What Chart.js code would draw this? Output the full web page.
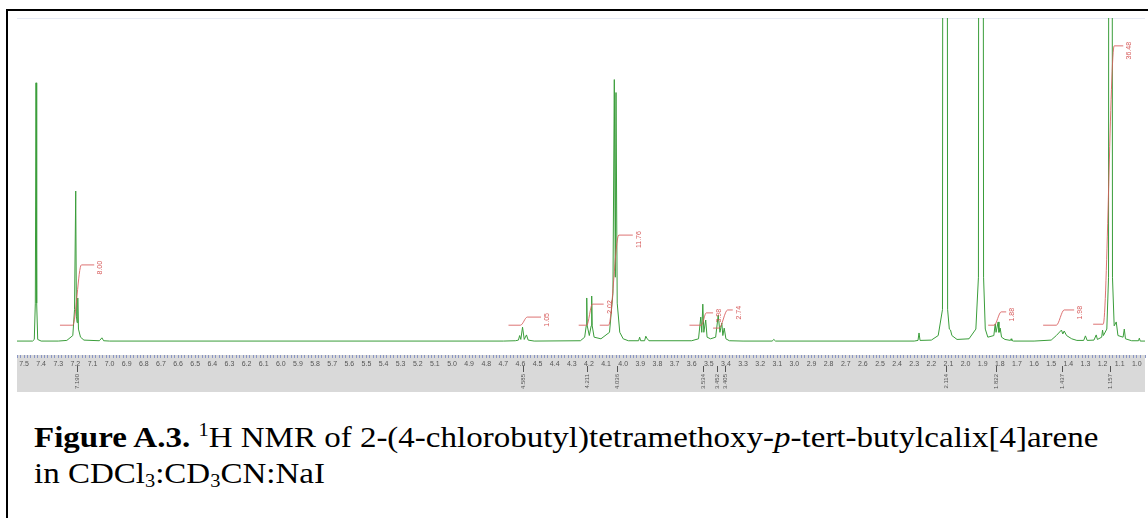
<!DOCTYPE html>
<html>
<head>
<meta charset="utf-8">
<script src="https://cdn.jsdelivr.net/npm/chart.js@4.4.1/dist/chart.umd.min.js"></script>
<style>
    body { margin: 0; background: #fff; width: 1148px; height: 518px; overflow: hidden; position: relative; }
    #frame { position: absolute; left: 6px; top: 9px; width: 1170px; height: 540px; border: 2px solid #000; box-sizing: border-box; }
    #wrap { position: absolute; left: 0; top: 0; width: 1148px; height: 400px; }
    #caption { position: absolute; left: 34px; top: 419px; font-family: 'Liberation Serif', 'Times New Roman', serif; font-size: 30px; line-height: 36px; color: #000; white-space: nowrap; transform: scaleX(1.1); transform-origin: left top; }
    #caption sup { font-size: 0.62em; vertical-align: 0.6em; line-height: 0; }
    #caption sub { font-size: 0.62em; vertical-align: -0.2em; line-height: 0; }
</style>
</head>
<body>
<div id="frame"></div>
<div id="wrap"><canvas id="nmr-chart"></canvas></div>
<div id="caption"><b>Figure A.3.</b> <sup>1</sup>H NMR of 2-(4-chlorobutyl)tetramethoxy-<i>p</i>-tert-butylcalix[4]arene<br>in CDCl<sub>3</sub>:CD<sub>3</sub>CN:NaI</div>

<script>
// spectrum trace (ppm, intensity; 100 = top of plot)
const ppm = [
    7.541, 7.45, 7.44, 7.434, 7.430, 7.426, 7.42, 7.40,
    7.30, 7.25, 7.215, 7.205, 7.198, 7.194, 7.190, 7.186, 7.182, 7.17, 7.15,
    7.06, 7.045, 7.035, 7.00,
    4.70, 4.63, 4.612, 4.605, 4.598, 4.588, 4.578, 4.565, 4.555, 4.52,
    4.25, 4.225, 4.216, 4.213, 4.210, 4.198, 4.187, 4.184, 4.181, 4.17, 4.13,
    4.08, 4.06, 4.052, 4.046, 4.042, 4.035, 4.02, 4.00, 3.97,
    3.91, 3.904, 3.898, 3.875, 3.868, 3.862, 3.85,
    3.60, 3.56, 3.547, 3.541, 3.535, 3.529, 3.518, 3.51, 3.49,
    3.46, 3.445, 3.435, 3.424, 3.418, 3.410, 3.40, 3.38,
    3.30, 3.13, 3.12, 3.11,
    2.30, 2.278, 2.272, 2.266, 2.20, 2.16, 2.135, 2.127, 2.113, 2.105, 2.095, 2.088, 2.08, 2.05,
    1.98, 1.94, 1.925, 1.918, 1.911, 1.904, 1.895, 1.885, 1.87,
    1.835, 1.827, 1.822, 1.810, 1.805, 1.798, 1.79, 1.77, 1.738, 1.734, 1.73, 1.72,
    1.60, 1.50, 1.47, 1.44, 1.432, 1.424, 1.41, 1.38, 1.35,
    1.31, 1.300, 1.29, 1.25, 1.237, 1.23, 1.205, 1.200, 1.195, 1.175, 1.165,
    1.160, 1.150, 1.142, 1.132, 1.120, 1.11, 1.08, 1.073, 1.066, 1.03,
    0.99, 0.985, 0.98, 0.952
];
const intensity = [
    0.3, 0.3, 0.8, 12, 80, 12, 0.8, 0.3,
    0.3, 0.5, 2, 10, 46.6, 8, 6, 13.6, 4, 1.5, 0.6,
    0.4, 1.3, 0.4, 0.3,
    0.3, 0.4, 0.6, 2.0, 0.8, 4.6, 0.8, 2.2, 0.6, 0.3,
    0.4, 1.5, 5, 13.6, 5, 2, 5, 14.2, 5, 1.5, 1,
    3, 15, 81, 20, 77, 12, 3, 1, 0.4,
    0.4, 1.5, 0.4, 0.4, 1.8, 1.2, 0.4,
    0.4, 1, 7.7, 3, 11.7, 3, 6.8, 1.5, 1,
    1.5, 8.3, 3, 5.9, 2, 4.3, 1, 0.4,
    0.3, 0.3, 0.8, 0.3,
    0.3, 0.5, 2.8, 0.5, 0.6, 2, 10, 600, 600, 10, 4, 3.7, 2, 0.8,
    1, 4, 20, 600, 250, 600, 20, 4, 1.5,
    2, 5.6, 3, 6.2, 3, 4.3, 1.5, 0.8, 0.5, 1, 0.5, 0.3,
    0.3, 0.6, 2, 3.7, 2.5, 3.4, 2, 1, 0.5,
    0.5, 1.9, 0.5, 0.6, 2.2, 0.8, 1.5, 3.7, 2, 4, 20,
    600, 600, 20, 5, 6.2, 2, 1.5, 4, 1, 0.4,
    0.4, 1.2, 0.3, 0.3
];

// integration regions: flat start, rise start, rise end, flat end (ppm)
const intStart     = [7.29, 4.67, 4.26, 4.137, 3.613, 3.475, 1.868, 1.547, 1.255];
const intRiseStart = [7.215, 4.60, 4.213, 4.085, 3.543, 3.44, 1.833, 1.47, 1.196];
const intRiseEnd   = [7.165, 4.56, 4.18, 4.026, 3.515, 3.39, 1.792, 1.424, 1.132];
const intEnd       = [7.09, 4.48, 4.114, 3.944, 3.475, 3.36, 1.763, 1.366, 1.079];
const intLow       = [5.2, 5.2, 5.2, 5.2, 5.2, 4.3, 5.2, 5.2, 5.5];
const intHigh      = [23.8, 7.7, 11.7, 33, 9, 9.9, 9.3, 9.9, 91.4];
const intValues    = ['8.00', '1.05', '2.02', '11.76', '3.98', '2.74', '1.88', '1.98', '36.48'];

// peak labels printed under the axis
const pickPpm    = [7.190, 4.585, 4.211, 4.036, 3.534, 3.452, 3.405, 2.114, 1.822, 1.437, 1.157];
const pickLabels = ['7.190', '4.585', '4.211', '4.036', '3.534', '3.452', '3.405', '2.114', '1.822', '1.437', '1.157'];

document.addEventListener('DOMContentLoaded', function () {

    // grey axis band and faint frame line
    const bandPlugin = {
        id: 'band',
        beforeDraw(chart) {
            const ctx = chart.ctx;
            const area = chart.chartArea;
            const xs = chart.scales.x;
            ctx.save();
            ctx.fillStyle = '#d9d9d9';
            ctx.fillRect(area.left, xs.top, area.right - area.left, 37);
            ctx.strokeStyle = '#e6eaf4';
            ctx.lineWidth = 1;
            ctx.beginPath();
            ctx.moveTo(area.left, area.top + 0.5);
            ctx.lineTo(area.right, area.top + 0.5);
            ctx.stroke();
            ctx.restore();
        }
    };

    // integral values and peak labels
    const labelPlugin = {
        id: 'labels',
        afterDraw(chart) {
            const ctx = chart.ctx;
            const xs = chart.scales.x;
            const ys = chart.scales.y;
            ctx.save();
            ctx.font = '7px "Liberation Sans", sans-serif';
            ctx.textBaseline = 'middle';
            ctx.textAlign = 'right';

            ctx.fillStyle = 'rgba(210, 70, 70, 0.9)';
            intValues.forEach((txt, i) => {
                const px = xs.getPixelForValue(intEnd[i]) + 6;
                const py = ys.getPixelForValue(intHigh[i]) - 4;
                ctx.save();
                ctx.translate(px, py);
                ctx.rotate(-Math.PI / 2);
                ctx.fillText(txt, 0, 0);
                ctx.restore();
            });

            ctx.fillStyle = '#555';
            ctx.strokeStyle = '#555';
            ctx.lineWidth = 1;
            ctx.font = '6px "Liberation Sans", sans-serif';
            pickPpm.forEach((p, i) => {
                const px = Math.round(xs.getPixelForValue(p)) + 0.5;
                ctx.beginPath();
                ctx.moveTo(px, xs.top + 11);
                ctx.lineTo(px, xs.top + 17);
                ctx.stroke();
                ctx.save();
                ctx.translate(px, xs.top + 19);
                ctx.rotate(-Math.PI / 2);
                ctx.fillText(pickLabels[i], 0, 0);
                ctx.restore();
            });
            ctx.restore();
        }
    };

    const integralSets = intStart.map((s, i) => ({
        data: [
            { x: s, y: intLow[i] },
            { x: intRiseStart[i], y: intLow[i] },
            { x: intRiseEnd[i], y: intHigh[i] },
            { x: intEnd[i], y: intHigh[i] }
        ],
        borderColor: 'rgba(215, 90, 90, 0.85)',
        borderWidth: 1,
        pointRadius: 0,
        cubicInterpolationMode: 'monotone',
        order: 1
    }));

    const ctx = document.getElementById('nmr-chart').getContext('2d');
    new Chart(ctx, {
        type: 'line',
        data: {
            datasets: [{
                data: ppm.map((p, i) => ({ x: p, y: intensity[i] })),
                borderColor: '#3a9d3a',
                borderWidth: 1,
                pointRadius: 0,
                tension: 0,
                order: 2
            }].concat(integralSets)
        },
        options: {
            responsive: true,
            maintainAspectRatio: false,
            animation: false,
            layout: { padding: { left: 17, right: 3, top: 18, bottom: 0 } },
            plugins: { legend: { display: false }, tooltip: { enabled: false } },
            scales: {
                x: {
                    type: 'linear',
                    reverse: true,
                    min: 0.952,
                    max: 7.541,
                    afterFit: function (scale) { scale.height = 45; },
                    border: { display: false },
                    grid: { drawOnChartArea: false, color: '#8a96c4', tickLength: 3 },
                    ticks: {
                        stepSize: 0.02,
                        autoSkip: false,
                        maxRotation: 0,
                        minRotation: 0,
                        padding: 2,
                        color: '#555',
                        font: { size: 7, family: 'Liberation Sans' },
                        callback: v => Math.round(v * 100) % 10 === 0 ? v.toFixed(1) : ''
                    }
                },
                y: { display: false, min: -4, max: 100 }
            }
        },
        plugins: [bandPlugin, labelPlugin]
    });
});
</script>
</body>
</html>
